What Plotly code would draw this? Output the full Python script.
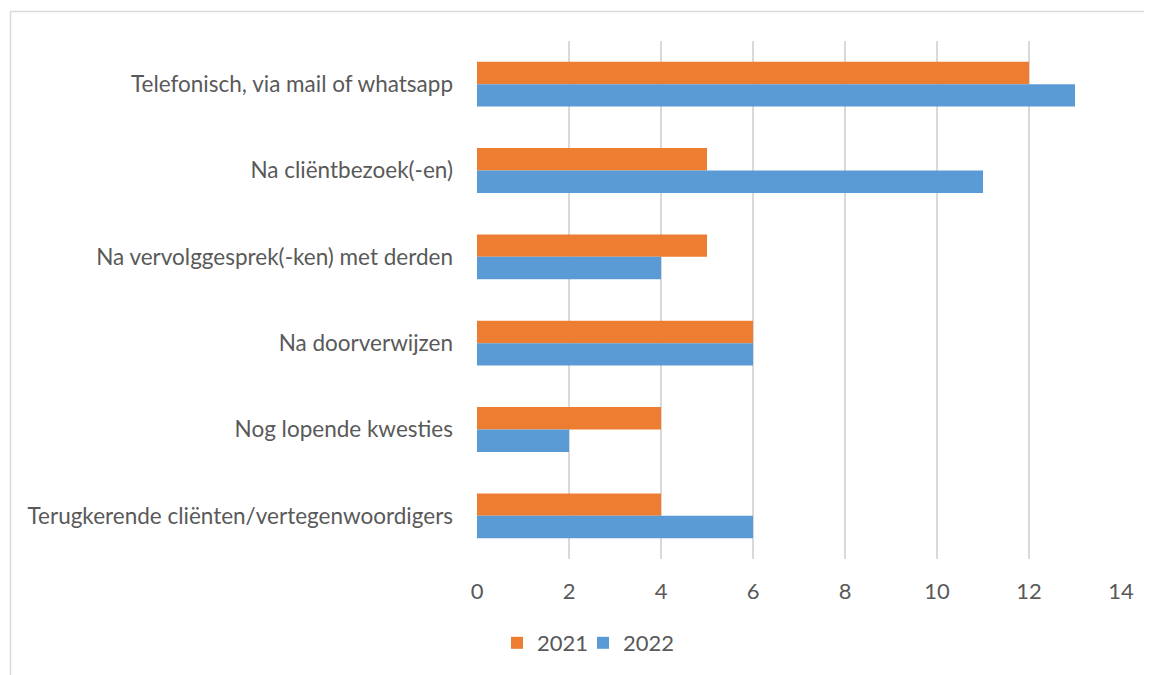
import plotly.graph_objects as go

categories = [
    "Telefonisch, via mail of whatsapp",
    "Na cliëntbezoek(-en)",
    "Na vervolggesprek(-ken) met derden",
    "Na doorverwijzen",
    "Nog lopende kwesties",
    "Terugkerende cliënten/vertegenwoordigers",
]
values_2021 = [12, 5, 5, 6, 4, 4]
values_2022 = [13, 11, 4, 6, 2, 6]
x_ticks = [0, 2, 4, 6, 8, 10, 12, 14]

# page has an 8px body margin; work in figure coordinates
OFF = 8
W, H = 1152 - OFF, 675 - OFF
L, R, T, B = 477 - OFF, 1121 - OFF, 41 - OFF, 560 - OFF
PW, PH = R - L, B - T

fig = go.Figure()
fig.add_trace(go.Bar(y=categories, x=values_2021, name="2021", orientation="h",
                     legend="legend",
                     marker=dict(color="#ED7D31", line=dict(width=0))))
fig.add_trace(go.Bar(y=categories, x=values_2022, name="2022", orientation="h",
                     legend="legend2",
                     marker=dict(color="#5B9BD5", line=dict(width=0))))

font = "Lato, 'Open Sans', sans-serif"
leg_y = (B - (643 - OFF)) / PH
leg_common = dict(orientation="h", xref="paper", yref="paper", y=leg_y,
                  yanchor="middle", xanchor="left", itemwidth=30,
                  font=dict(size=22, color="#595959"), bgcolor="rgba(0,0,0,0)")
fig.update_layout(
    width=W, height=H,
    margin=dict(l=L, r=W - R, t=T, b=H - B, pad=0),
    paper_bgcolor="white", plot_bgcolor="white",
    barmode="group", bargap=0.48, bargroupgap=0,
    font=dict(family=font, size=22.5, color="#595959"),
    showlegend=True,
    legend=dict(x=(497 - 477) / PW, **leg_common),
    legend2=dict(x=(583 - 477) / PW, **leg_common),
    xaxis=dict(range=[0, 14], tickvals=x_ticks, showgrid=True, gridcolor="#D9D9D9",
               gridwidth=1.5, zeroline=False, showline=False, ticks="",
               ticklabelstandoff=17, tickfont=dict(size=22), fixedrange=True),
    yaxis=dict(autorange="reversed", showgrid=False, showline=False, ticks="",
               ticklabelstandoff=23, fixedrange=True),
    shapes=[dict(type="rect", xref="paper", yref="paper",
                 x0=(10.5 - 477) / PW, x1=(1250 - 477) / PW,
                 y0=(B - 760) / PH, y1=(B - (11.5 - OFF)) / PH,
                 line=dict(color="#D9D9D9", width=1.5), fillcolor="rgba(0,0,0,0)", layer="below")],
)
fig.write_html("out.html")
